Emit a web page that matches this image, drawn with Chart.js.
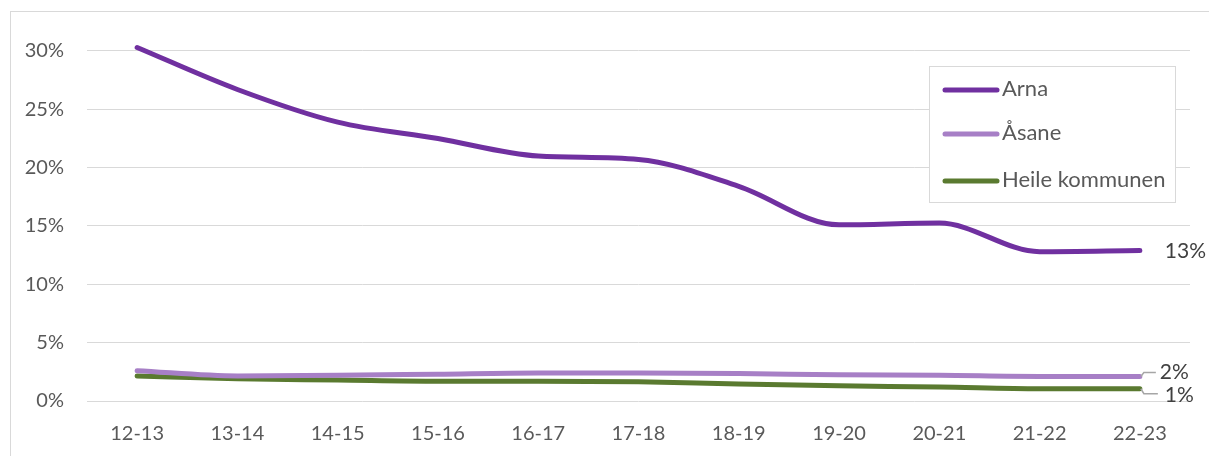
<!DOCTYPE html>
<html>
<head>
<meta charset="utf-8">
<script src="https://cdn.jsdelivr.net/npm/chart.js@4"></script>
<style>
  body { margin: 0; background: #fff; }
</style>
</head>
<body>
<canvas id="chart" width="1209" height="456"></canvas>
<script>
const labels = ["12-13", "13-14", "14-15", "15-16", "16-17", "17-18", "18-19", "19-20", "20-21", "21-22", "22-23"];
const arna = [30.3, 26.7, 23.9, 22.5, 21.0, 20.7, 18.4, 15.1, 15.25, 12.8, 12.9];
const asane = [2.6, 2.15, 2.2, 2.3, 2.4, 2.4, 2.35, 2.25, 2.2, 2.1, 2.1];
const heile = [2.15, 1.9, 1.8, 1.7, 1.7, 1.65, 1.45, 1.3, 1.2, 1.05, 1.05];
const yTicks = [0, 5, 10, 15, 20, 25, 30];

const fontFamily = "Lato, 'Open Sans', sans-serif";
const textColor = "#595959";

// frame round the chart
const framePlugin = {
  id: "frame",
  beforeDraw(chart) {
    const ctx = chart.ctx;
    ctx.save();
    ctx.strokeStyle = "#d9d9d9";
    ctx.lineWidth = 1;
    ctx.strokeRect(10.5, 11.5, 1300, 500);
    ctx.restore();
  }
};

// legend box inside the plot
const legendPlugin = {
  id: "boxLegend",
  afterDraw(chart) {
    const ctx = chart.ctx;
    ctx.save();
    ctx.fillStyle = "#fff";
    ctx.fillRect(929, 66, 246, 136);
    ctx.strokeStyle = "#d9d9d9";
    ctx.lineWidth = 1;
    ctx.strokeRect(929.5, 66.5, 246, 136);
    const rows = [90, 134, 181];
    chart.data.datasets.forEach((ds, i) => {
      ctx.strokeStyle = ds.borderColor;
      ctx.lineWidth = 5;
      ctx.lineCap = "round";
      ctx.beginPath();
      ctx.moveTo(945, rows[i]);
      ctx.lineTo(997, rows[i]);
      ctx.stroke();
      ctx.fillStyle = textColor;
      ctx.font = "22px " + fontFamily;
      ctx.textBaseline = "middle";
      ctx.textAlign = "left";
      ctx.fillText(ds.label, 1002, rows[i] - 1);
    });
    ctx.restore();
  }
};

// value labels at the last point
const endLabelPlugin = {
  id: "endLabels",
  afterDatasetsDraw(chart) {
    const ctx = chart.ctx;
    const last = labels.length - 1;
    ctx.save();
    ctx.font = "21px " + fontFamily;
    ctx.fillStyle = "#404040";
    ctx.textBaseline = "middle";
    ctx.textAlign = "left";
    const pa = chart.getDatasetMeta(0).data[last];
    ctx.fillText(Math.round(arna[last]) + "%", pa.x + 25, pa.y + 1);

    const pb = chart.getDatasetMeta(1).data[last];
    const pc = chart.getDatasetMeta(2).data[last];
    ctx.strokeStyle = "#a6a6a6";
    ctx.lineWidth = 1.5;
    ctx.beginPath();
    ctx.moveTo(pb.x + 1, pb.y);
    ctx.lineTo(pb.x + 4, pb.y - 4);
    ctx.lineTo(pb.x + 16, pb.y - 4);
    ctx.stroke();
    ctx.beginPath();
    ctx.moveTo(pc.x + 1, pc.y);
    ctx.lineTo(pc.x + 4, pc.y + 5);
    ctx.lineTo(pc.x + 18, pc.y + 5);
    ctx.stroke();
    ctx.fillText(Math.round(asane[last]) + "%", pb.x + 20, pb.y - 4);
    ctx.fillText(Math.round(heile[last]) + "%", pc.x + 25, pc.y + 6);
    ctx.restore();
  }
};

const data = {
  labels: labels,
  datasets: [
    { label: "Arna", data: arna, borderColor: "#7030a0" },
    { label: "Åsane", data: asane, borderColor: "#a77fc6" },
    { label: "Heile kommunen", data: heile, borderColor: "#5a7a30" }
  ].map(d => Object.assign(d, {
    borderWidth: 5,
    pointRadius: 0,
    cubicInterpolationMode: "monotone",
    fill: false,
    borderCapStyle: "round"
  }))
};

const config = {
  type: "line",
  data: data,
  options: {
    responsive: false,
    animation: false,
    layout: { padding: { top: 0, right: 19, left: 0, bottom: 0 } },
    plugins: {
      legend: { display: false },
      tooltip: { enabled: false }
    },
    scales: {
      x: {
        offset: true,
        grid: { display: false },
        border: { display: false },
        ticks: { color: textColor, font: { family: fontFamily, size: 20 }, padding: 13, maxRotation: 0 },
        afterFit: s => { s.height = 55; }
      },
      y: {
        min: 0,
        max: 34.37,
        afterBuildTicks: s => { s.ticks = yTicks.map(v => ({ value: v })); },
        grid: { color: "#d9d9d9", lineWidth: 1, drawTicks: false },
        border: { display: false },
        ticks: {
          color: textColor,
          font: { family: fontFamily, size: 20 },
          padding: 23,
          callback: v => v + "%"
        },
        afterFit: s => { s.width = 87; s.paddingTop = 0; s.paddingBottom = 0; }
      }
    }
  },
  plugins: [framePlugin, legendPlugin, endLabelPlugin]
};

const myChart = new Chart(document.getElementById("chart"), config);
</script>
</body>
</html>
